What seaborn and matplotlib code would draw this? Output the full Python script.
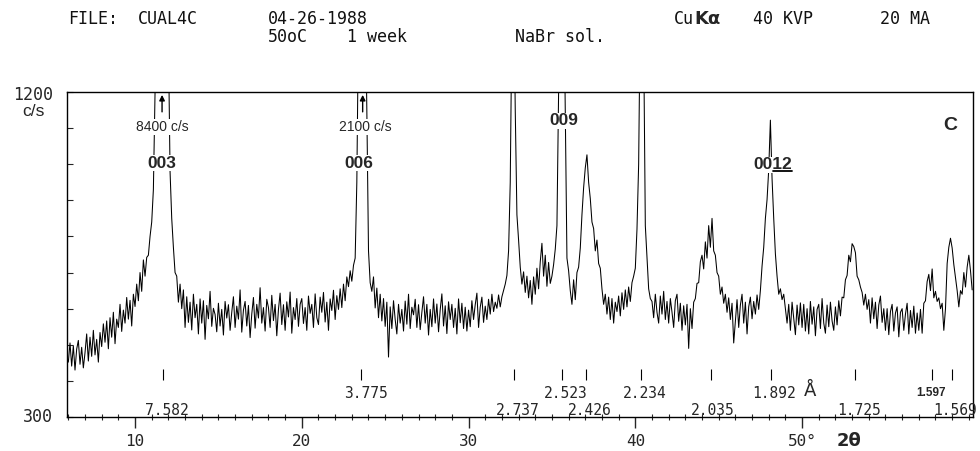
import numpy as np
import matplotlib
matplotlib.use("Agg")
import matplotlib.pyplot as plt
from matplotlib.ticker import MultipleLocator
import seaborn as sns

# step scan: one count rate every 0.1 deg 2theta from 5.9
start_2theta = 5.9
step_2theta = 0.1
cps = [468,
    452, 505, 441, 497, 430, 488, 512, 446, 493, 436,   # 6
    478, 530, 455, 521, 468, 540, 472, 515, 452, 534,   # 7
    495, 558, 507, 566, 489, 575, 521, 590, 503, 571,   # 8
    548, 612, 537, 596, 560, 631, 571, 623, 552, 640,   # 9
    606, 668, 622, 700, 648, 735, 690, 742, 748, 800,   # 10
    840, 930, 1200, 2600, 5000, 7500, 8400, 7400, 4800, 2500,   # 11
    1350, 980, 850, 770, 700, 690, 618, 668, 600, 652,  # 12
    548, 633, 562, 618, 541, 640, 575, 612, 530, 627,   # 13
    560, 622, 515, 609, 572, 648, 551, 601, 584, 536,   # 14
    615, 552, 598, 527, 620, 574, 611, 540, 590, 633,   # 15
    548, 607, 571, 652, 535, 596, 620, 552, 609, 520,   # 16
    585, 631, 546, 612, 574, 658, 560, 603, 538, 626,   # 17
    603, 548, 637, 567, 612, 525, 598, 643, 556, 611,   # 18
    540, 619, 577, 646, 532, 603, 570, 628, 551, 612,   # 19
    628, 559, 603, 540, 635, 587, 612, 548, 641, 575,   # 20
    556, 632, 590, 645, 563, 618, 540, 627, 595, 651,   # 21
    570, 636, 598, 655, 603, 668, 622, 688, 661, 705,   # 22
    676, 720, 740, 950, 1400, 1900, 2100, 1900, 1500, 1150,   # 23
    760, 672, 648, 688, 602, 657, 575, 640, 566, 628,   # 24
    551, 618, 466, 605, 545, 622, 570, 530, 612, 560,   # 25
    598, 538, 621, 557, 640, 545, 604, 583, 626, 548,   # 26
    611, 542, 590, 633, 560, 612, 527, 598, 550, 627,   # 27
    560, 613, 536, 597, 641, 552, 608, 531, 619, 570,   # 28
    612, 548, 601, 530, 627, 561, 615, 545, 604, 538,   # 29
    596, 550, 622, 570, 611, 643, 548, 604, 632, 562,   # 30
    607, 570, 626, 585, 640, 592, 618, 601, 638, 605,   # 31
    633, 650, 668, 692, 760, 950, 1400, 1550, 1150, 860,   # 32
    790, 715, 668, 702, 645, 690, 630, 678, 612, 688,   # 33
    640, 712, 655, 730, 781, 690, 748, 662, 728, 670,   # 34
    690, 722, 765, 830, 1200, 1700, 1800, 1550, 1150, 740,   # 35
    705, 650, 612, 680, 625, 700, 715, 768, 860, 935,   # 36
    990, 1026, 950, 905, 840, 822, 760, 790, 725, 712,  # 37
    655, 612, 640, 585, 632, 570, 628, 560, 618, 592,   # 38
    635, 580, 644, 598, 652, 605, 660, 620, 672, 690,   # 39
    712, 820, 1000, 1450, 1750, 1350, 830, 745, 655, 628,   # 40
    620, 575, 640, 590, 560, 635, 585, 648, 570, 620,   # 41
    560, 628, 590, 548, 622, 640, 565, 615, 540, 608,   # 42
    555, 612, 490, 600, 545, 618, 628, 670, 672, 730,   # 43
    748, 710, 785, 740, 830, 770, 850, 760, 748, 700,   # 44
    690, 640, 660, 615, 640, 590, 630, 570, 615, 505,   # 45
    565, 625, 548, 610, 640, 560, 618, 530, 605, 632,   # 46
    572, 620, 585, 638, 598, 650, 718, 770, 850, 902,   # 47
    985, 1122, 960, 850, 752, 690, 640, 655, 625, 640,  # 48
    600, 560, 612, 540, 618, 572, 528, 610, 555, 616,   # 49
    548, 612, 538, 600, 530, 620, 557, 605, 525, 598,   # 50
    612, 545, 628, 560, 532, 610, 550, 618, 566, 540,   # 51
    605, 555, 622, 580, 632, 630, 680, 692, 748, 730,   # 52
    780, 772, 755, 690, 680, 660, 645, 610, 640, 598,   # 53
    625, 560, 630, 572, 618, 545, 610, 635, 562, 600,   # 54
    540, 600, 528, 592, 612, 538, 588, 605, 522, 590,   # 55
    600, 540, 585, 615, 530, 595, 548, 607, 532, 588,   # 56
    540, 598, 532, 615, 622, 675, 695, 650, 710, 630,   # 57
    648, 620, 630, 600, 615, 540, 600, 725, 770, 795,   # 58
    768, 722, 686, 650, 605, 650, 640, 700, 660, 715,   # 59
    748, 705, 652]                                      # 60

# d-spacings (A) marked under the pattern and their 2theta marks
d_spacing = ["7.582", "3.775", "2.737", "2.523", "2.426", "2.234",
             "2.035", "1.892", "1.725", "1.597", "1.569"]
d_mark_2theta = [11.70, 23.57, 32.75, 35.63, 37.07, 40.36,
                 44.55, 48.14, 53.17, 57.78, 58.98]

two_theta = np.round(start_2theta + step_2theta * np.arange(len(cps)), 2)

sns.set_style("ticks")
plt.rcParams["font.family"] = ["DejaVu Sans Mono", "DejaVu Sans"]
mono = "DejaVu Sans Mono"
arial = "Liberation Sans"

fig = plt.figure(figsize=(9.8, 4.51), dpi=100)
ax = fig.add_axes([67 / 980, 1 - 417 / 451, 906 / 980, 325 / 451])

sns.lineplot(x=two_theta, y=cps, ax=ax, color="black", linewidth=0.75,
             estimator=None, sort=False)

ax.set_xlim(5.92, 60.25)
ax.set_ylim(300, 1200)
for s in ax.spines.values():
    s.set_color("black")
    s.set_linewidth(1.0)

ax.set_xticks([10, 20, 30, 40, 50])
ax.set_xticklabels(["10", "20", "30", "40", "50°"], fontfamily=mono, fontsize=11.5)
ax.xaxis.set_minor_locator(MultipleLocator(1))
ax.tick_params(axis="x", which="major", direction="out", length=8, width=1, pad=4)
ax.tick_params(axis="x", which="minor", direction="inout", length=4, width=0.8)
ax.set_yticks(range(300, 1201, 100))
ax.set_yticklabels([])
ax.tick_params(axis="y", direction="in", length=4, width=0.8)
ax.set_xlabel("")
ax.set_ylabel("")


def fig_px(x, y):
    return x / 980, 1 - y / 451


# header lines
hdr = dict(fontfamily=mono, fontsize=12, va="center", ha="left", color="#111111")
fig.text(*fig_px(68, 19), "FILE:", **hdr)
fig.text(*fig_px(138, 19), "CUAL4C", **hdr)
fig.text(*fig_px(268, 19), "04-26-1988", **hdr)
fig.text(*fig_px(268, 37), "50oC", **hdr)
fig.text(*fig_px(347, 37), "1 week", **hdr)
fig.text(*fig_px(515, 37), "NaBr sol.", **hdr)
fig.text(*fig_px(674, 19), "Cu", **hdr)
fig.text(*fig_px(694, 19), "Kα", fontfamily="DejaVu Sans", fontsize=13,
         fontweight="bold", va="center", ha="left")
fig.text(*fig_px(753, 19), "40 KVP", **hdr)
fig.text(*fig_px(880, 19), "20 MA", **hdr)

# y scale ends and unit
fig.text(*fig_px(53, 95), "1200", fontfamily=mono, fontsize=12, ha="right", va="center")
fig.text(*fig_px(53, 417), "300", fontfamily=mono, fontsize=12, ha="right", va="center")
fig.text(*fig_px(33, 111), "c/s", fontfamily=arial, fontsize=12.5, ha="center", va="center")
fig.text(*fig_px(837, 441), "2θ", fontfamily="DejaVu Sans", fontsize=13,
         fontweight="bold", ha="left", va="center")

# off-scale peaks and reflection labels
box = dict(facecolor="white", edgecolor="none", pad=0.5)
for xc, txt in [(11.62, "8400 c/s"), (23.83, "2100 c/s")]:
    ax.text(xc, 1103, txt, fontfamily=arial, fontsize=10, ha="center",
            va="center", bbox=box, zorder=5)
for xa in [11.62, 23.65]:
    ax.annotate("", xy=(xa, 1192), xytext=(xa, 1145),
                arrowprops=dict(arrowstyle="-|>", lw=1.0, color="black",
                                mutation_scale=8, shrinkA=0, shrinkB=0),
                zorder=6)

lab = dict(fontfamily=arial, fontsize=12.5, fontweight="bold", ha="center",
           va="center", bbox=box, zorder=5)
ax.text(11.62, 1003, "003", **lab)
ax.text(23.41, 1003, "006", **lab)
ax.text(35.69, 1120, "009", **lab)
t12 = ax.text(48.26, 998, "0012", **lab)
ax.text(58.9, 1108, "C", fontfamily=arial, fontsize=14, fontweight="bold",
        ha="center", va="center")

# d-spacing marks and their values
ax.vlines(d_mark_2theta, 402, 433, color="black", linewidth=0.8)
upper_row = {"3.775": 23.83, "2.523": 35.81, "2.234": 40.54, "1.892": 48.32}
lower_row = {"7.582": 11.92, "2.737": 32.93, "2.426": 37.25, "2.035": 44.67,
             "1.725": 53.41, "1.569": 59.16}
for d in d_spacing:
    if d in upper_row:
        ax.text(upper_row[d], 366, d, fontfamily=mono, fontsize=10.5,
                ha="center", va="center")
    elif d in lower_row:
        ax.text(lower_row[d], 319, d, fontfamily=mono, fontsize=10.5,
                ha="center", va="center")
ax.text(57.72, 366, "1.597", fontfamily=arial, fontsize=8.5, fontweight="bold",
        ha="center", va="center")
ax.text(50.48, 372, "Å", fontfamily="DejaVu Sans", fontsize=13, ha="center",
        va="center")

# underline under the "12" of 0012
fig.canvas.draw()
bb = t12.get_window_extent()
inv = fig.transFigure.inverted()
(fx0, fy), (fx1, _) = inv.transform([(bb.x0 + bb.width * 0.5, bb.y0 + 1.5),
                                     (bb.x1, bb.y0 + 1.5)])
fig.add_artist(plt.Line2D([fx0, fx1], [fy, fy], color="black", linewidth=1.3))

fig.savefig("out.png", dpi=100)
